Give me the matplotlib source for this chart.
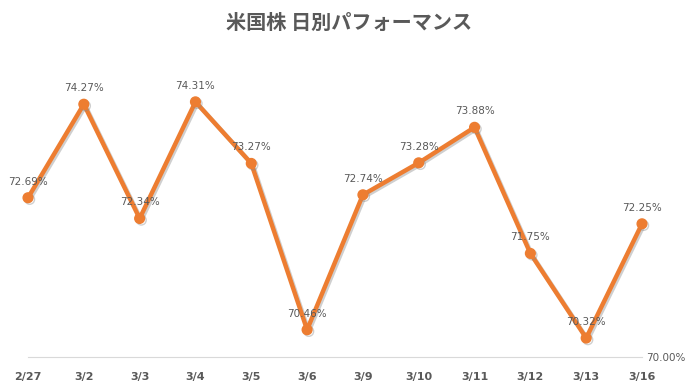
import matplotlib.pyplot as plt
import matplotlib.patheffects as pe

dates = ["2/27", "3/2", "3/3", "3/4", "3/5", "3/6", "3/9", "3/10", "3/11", "3/12", "3/13", "3/16"]
perf = [72.69, 74.27, 72.34, 74.31, 73.27, 70.46, 72.74, 73.28, 73.88, 71.75, 70.32, 72.25]

orange = "#ED7D31"
grey = "#595959"

fig = plt.figure(figsize=(6.98, 3.92), dpi=100)
ax = fig.add_axes([28 / 698, 1 - 357 / 392, (642 - 28) / 698, 296 / 392])

x = list(range(len(dates)))
shadow = [pe.SimpleLineShadow(offset=(1.2, -1.2), shadow_color="#888888", alpha=0.4), pe.Normal()]
ax.plot(x, perf, color=orange, lw=3.2, marker="o", ms=7, solid_joinstyle="round",
        path_effects=shadow, clip_on=False, zorder=3)

for xi, v in zip(x, perf):
    ax.annotate(f"{v:.2f}%", (xi, v), xytext=(0, 8), textcoords="offset points",
                ha="center", va="bottom", fontsize=7.5, color=grey)

ax.set_xlim(0, 11)
ax.set_ylim(70, 75)
ax.set_xticks(x)
ax.set_xticklabels(dates, fontsize=8, fontweight="bold", color=grey)
ax.tick_params(axis="x", length=0, pad=11)
ax.yaxis.tick_right()
ax.set_yticks([70])
ax.set_yticklabels(["70.00%"], fontsize=7.5, color=grey)
ax.tick_params(axis="y", length=0, pad=3)
for s in ["top", "left", "right"]:
    ax.spines[s].set_visible(False)
ax.spines["bottom"].set_color("#d9d9d9")

fig.text(0.5, 1 - 22 / 392, "米国株 日別パフォーマンス", ha="center", va="center",
         fontsize=14.5, fontweight="bold", color=grey,
         family=["Noto Sans CJK JP", "DejaVu Sans"])

fig.savefig("out.png", dpi=100)
